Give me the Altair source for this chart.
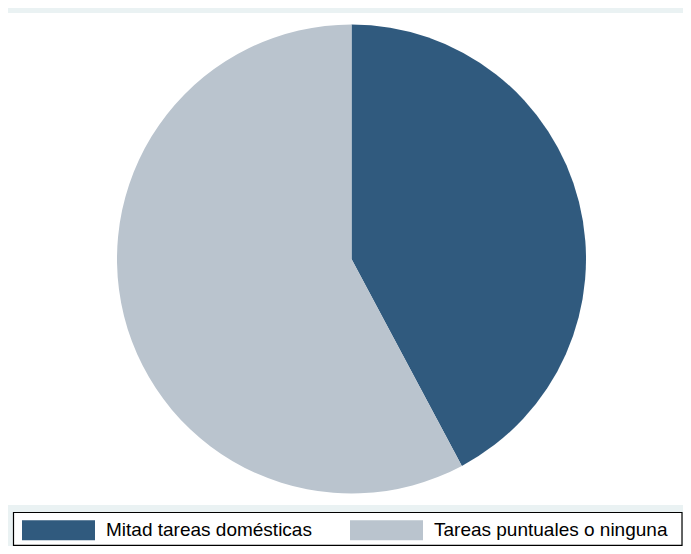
import altair as alt
import pandas as pd

# Data
categories = ["Mitad tareas domésticas", "Tareas puntuales o ninguna"]
values = [42.2, 57.8]
colors = ["#305A7E", "#BAC4CE"]
order = [1, 2]

pie_df = pd.DataFrame({"categoria": categories, "valor": values, "orden": order})

W, H = 675, 538
band_color = "#EAF2F3"

one = alt.Data(values=[{}])

top_band = alt.Chart(one).mark_rect(color=band_color).encode(
    x=alt.value(0), x2=alt.value(W), y=alt.value(0), y2=alt.value(5)
)
bottom_band = alt.Chart(one).mark_rect(color=band_color).encode(
    x=alt.value(0), x2=alt.value(W), y=alt.value(497), y2=alt.value(H)
)
legend_box = alt.Chart(one).mark_rect(fill="white", stroke="black", strokeWidth=1.2).encode(
    x=alt.value(5.5), x2=alt.value(674), y=alt.value(504.5), y2=alt.value(537.3)
)

pie = alt.Chart(pie_df).mark_arc(radius=234.5, stroke=None).encode(
    theta=alt.Theta("valor:Q", stack=True),
    order=alt.Order("orden:Q"),
    color=alt.Color(
        "categoria:N",
        scale=alt.Scale(domain=categories, range=colors),
        sort=categories,
        legend=alt.Legend(
            orient="none",
            legendX=14,
            legendY=485.5,
            direction="horizontal",
            columns=2,
            title=None,
            symbolType="M-1,-0.274L1,-0.274L1,0.274L-1,0.274Z",
            symbolSize=5329,
            symbolStrokeWidth=0,
            symbolOpacity=1,
            labelFont="Liberation Sans",
            labelFontSize=19,
            labelColor="black",
            labelOffset=11,
            labelLimit=0,
            columnPadding=38,
            padding=0,
        ),
    ),
    x=alt.value(343.5),
    y=alt.value(251),
)

chart = alt.layer(top_band, bottom_band, legend_box, pie).properties(
    width=W,
    height=H,
    autosize=alt.AutoSizeParams(type="none"),
    padding=0,
    background="white",
).configure_view(stroke=None)

chart.save("out.html", embed_options={"renderer": "svg", "actions": False})
